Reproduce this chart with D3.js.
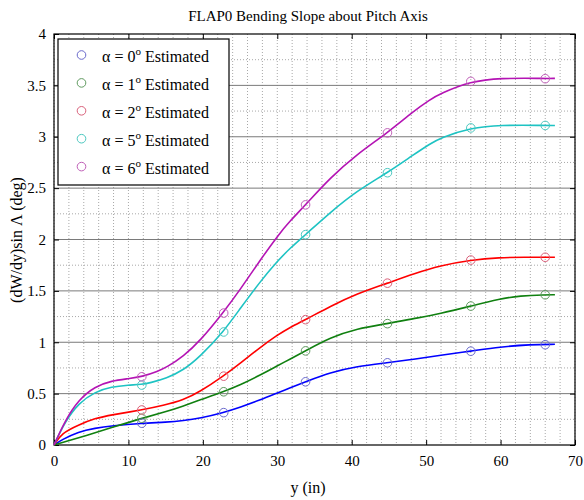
<!DOCTYPE html>
<html><head><meta charset="utf-8">
<script src="https://cdn.jsdelivr.net/npm/d3@7"></script>
<style>body{margin:0;background:#fff}svg{display:block}</style>
</head><body><svg id="c" width="584" height="500"></svg>
<script>
const FONT = "'Liberation Serif','Times New Roman','DejaVu Serif',serif";
const title = "FLAP0 Bending Slope about Pitch Axis";
const xLabel = "y (in)";
const yLabel = "(dW/dy)sin \u039B (deg)";
const xTicks = [0,10,20,30,40,50,60,70];
const yTicks = [0,0.5,1,1.5,2,2.5,3,3.5,4];
const seriesNames = ["0","1","2","5","6"];
const lineColors = ["#0000ff","#108010","#ff0000","#1ec3c3","#b414b4"];
const markerColors = ["#6a6acc","#5f9a5f","#d9607a","#4cc8c0","#c060b8"];

// estimated points (markers)
const xEst = [11.8,22.8,33.8,44.8,56,66];
const est0 = [0.212,0.315,0.615,0.800,0.913,0.976];
const est1 = [0.260,0.518,0.916,1.181,1.352,1.462];
const est2 = [0.341,0.670,1.220,1.575,1.800,1.827];
const est5 = [0.583,1.100,2.047,2.650,3.086,3.110];
const est6 = [0.664,1.284,2.337,3.038,3.539,3.565];

// curves: [y(in), value]
const line0 = [[0,0],[1,0.05],[3.3,0.13],[5.5,0.164],[7.75,0.186],[11.8,0.212],[15.1,0.222],[17.4,0.237],[19.6,0.26],[22.75,0.315],[25,0.367],[27.7,0.438],[29.9,0.503],[31.7,0.555],[33.8,0.615],[37.1,0.705],[40.7,0.765],[44.8,0.80],[48.3,0.834],[51.9,0.874],[56,0.913],[59.9,0.955],[64,0.978],[67.3,0.98]];
const line1 = [[0,0],[4,0.085],[8,0.175],[11.8,0.26],[15.1,0.325],[17.4,0.38],[19.6,0.438],[22.75,0.518],[25,0.583],[27.7,0.68],[29.9,0.767],[31.7,0.835],[33.8,0.916],[37.1,1.045],[40.7,1.133],[44.8,1.181],[48.3,1.23],[51.9,1.278],[56,1.352],[59.9,1.423],[62.6,1.452],[66,1.462],[67.3,1.462]];
const line2 = [[0,0],[1,0.115],[3.3,0.196],[5.5,0.26],[7.75,0.293],[11.8,0.341],[14.7,0.385],[17.4,0.438],[19.6,0.518],[22.75,0.67],[25,0.794],[27.7,0.95],[29.9,1.065],[31.7,1.145],[33.8,1.22],[37.1,1.349],[40.7,1.472],[44.8,1.575],[48.3,1.666],[51.9,1.746],[56,1.80],[59.9,1.825],[63,1.827],[67.3,1.827]];
const line5 = [[0,0],[1.5,0.228],[3.3,0.406],[5.5,0.518],[7.75,0.567],[10,0.583],[11.8,0.59],[12.9,0.605],[15.1,0.648],[17.4,0.729],[19.6,0.858],[22.75,1.10],[25,1.327],[27.7,1.59],[29.9,1.78],[31.7,1.915],[33.8,2.047],[37.1,2.263],[40.7,2.473],[44.8,2.65],[48.3,2.825],[50.5,2.93],[51.9,2.99],[56,3.086],[59.9,3.115],[66,3.11],[67.3,3.11]];
const line6 = [[0,0],[1.5,0.24],[3.3,0.44],[5.5,0.57],[7.75,0.625],[10,0.645],[11.8,0.664],[14,0.72],[15.1,0.755],[17.4,0.865],[19.6,1.01],[22.75,1.29],[25,1.51],[27.7,1.80],[30.2,2.05],[31.7,2.18],[33.8,2.337],[37.1,2.60],[40.7,2.83],[44.8,3.038],[48.3,3.248],[50.5,3.36],[51.9,3.42],[56,3.539],[59.9,3.572],[66,3.567],[67.3,3.568]];

const ests = [est0,est1,est2,est5,est6];
const lines = [line0,line1,line2,line5,line6];

const svg = d3.select("#c");
const L=54,R=575,T=34,B=445;
const x = d3.scaleLinear().domain([0,70]).range([L,R]);
const y = d3.scaleLinear().domain([0,4]).range([B,T]);

svg.append("rect").attr("x",L).attr("y",T).attr("width",R-L).attr("height",B-T).attr("fill","#fff");

// minor grids (dotted)
const g = svg.append("g");
d3.range(0,70.01,2).forEach(v=>{
  g.append("line").attr("x1",x(v)).attr("x2",x(v)).attr("y1",T).attr("y2",B)
   .attr("stroke","#a8a8a8").attr("stroke-width",1).attr("stroke-dasharray","1,2");
});
d3.range(0.25,4,0.5).forEach(v=>{
  g.append("line").attr("x1",L).attr("x2",R).attr("y1",y(v)).attr("y2",y(v))
   .attr("stroke","#a8a8a8").attr("stroke-width",1).attr("stroke-dasharray","1,2");
});
// major horizontal grid
yTicks.slice(1,-1).forEach(v=>{
  g.append("line").attr("x1",L).attr("x2",R).attr("y1",y(v)).attr("y2",y(v))
   .attr("stroke","#7a7a7a").attr("stroke-width",1);
});

// axes
const xa = d3.axisBottom(x).tickValues(xTicks).tickSize(-5).tickPadding(10).tickFormat(d3.format("d"));
const xt = d3.axisTop(x).tickValues(xTicks).tickSize(-5).tickFormat("");
const ya = d3.axisLeft(y).tickValues(yTicks).tickSize(-5).tickPadding(8).tickFormat(d=>String(d));
const yr = d3.axisRight(y).tickValues(yTicks).tickSize(-5).tickFormat("");
[[xa,`translate(0,${B})`],[xt,`translate(0,${T})`],[ya,`translate(${L},0)`],[yr,`translate(${R},0)`]].forEach(([a,t])=>{
  const ax = svg.append("g").attr("transform",t).call(a).attr("font-family",FONT).attr("font-size",15);
  ax.select(".domain").remove();
  ax.selectAll("line").attr("stroke","#000");
  ax.selectAll("text").style("font-family",FONT).attr("font-size",15).attr("fill","#000");
});

svg.append("rect").attr("x",L).attr("y",T).attr("width",R-L).attr("height",B-T)
  .attr("fill","none").attr("stroke","#000").attr("stroke-width",1.2);

// lines
const lg = d3.line().x(d=>x(d[0])).y(d=>y(d[1])).curve(d3.curveBasis);
lines.forEach((ln,i)=>{
  svg.append("path").attr("d",lg(ln)).attr("fill","none").attr("stroke",lineColors[i]).attr("stroke-width",1.6);
});
// markers
ests.forEach((ev,i)=>{
  svg.append("g").selectAll("circle").data(ev).join("circle")
    .attr("cx",(d,j)=>x(xEst[j])).attr("cy",d=>y(d)).attr("r",4.3)
    .attr("fill","none").attr("stroke",markerColors[i]).attr("stroke-width",1);
});

// title and labels
const txt = (sel)=>sel.style("font-family",FONT).attr("fill","#000");
txt(svg.append("text").attr("x",308).attr("y",21).attr("text-anchor","middle").attr("font-size",15).text(title));
txt(svg.append("text").attr("x",308).attr("y",493).attr("text-anchor","middle").attr("font-size",16).text(xLabel));
txt(svg.append("text").attr("transform","translate(22,240) rotate(-90)").attr("text-anchor","middle").attr("font-size",16).text(yLabel));

// legend
const lgd = svg.append("g");
lgd.append("rect").attr("x",58).attr("y",39).attr("width",171).attr("height",146).attr("fill","#fff").attr("stroke","#000").attr("stroke-width",1.2);
seriesNames.forEach((n,i)=>{
  const cy = 55 + i*27.9;
  lgd.append("circle").attr("cx",81.5).attr("cy",cy).attr("r",4.3).attr("fill","none").attr("stroke",markerColors[i]).attr("stroke-width",1);
  const t = txt(lgd.append("text").attr("x",102).attr("y",cy+7).attr("font-size",16));
  t.append("tspan").text("\u03B1 = " + n);
  t.append("tspan").attr("dy",-7).attr("font-size",11).text("o");
  t.append("tspan").attr("dy",7).text(" Estimated");
});
</script></body></html>
